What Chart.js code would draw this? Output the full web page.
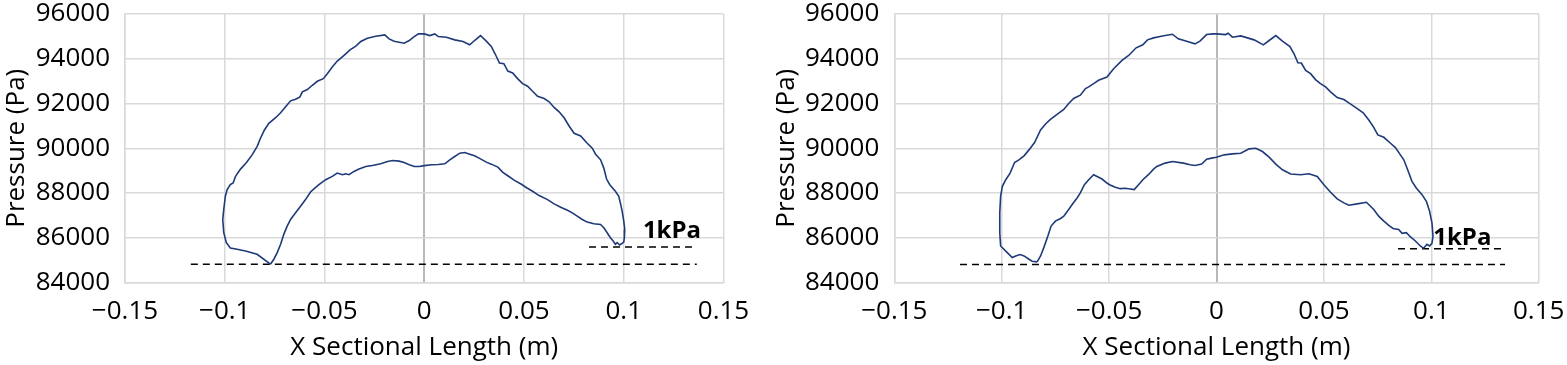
<!DOCTYPE html>
<html>
<head>
<meta charset="utf-8">
<script src="https://cdn.jsdelivr.net/npm/chart.js@4/dist/chart.umd.min.js"></script>
<style>
  body { margin: 0; background: #fff; }
  #esquerdo { position: absolute; left: 0; top: 0; }
  #direito { position: absolute; left: 770px; top: 0; }
</style>
</head>
<body>
<canvas id="esquerdo" width="770" height="365"></canvas>
<canvas id="direito" width="797" height="365"></canvas>
<script>
const esquerdo = document.getElementById('esquerdo');
const direito = document.getElementById('direito');

// curva do grafico da esquerda (volta fechada)
var esqX = [-0.0771, -0.0838, -0.0896, -0.0938, -0.0972, -0.0992, -0.1005, -0.1010, -0.1005, -0.0997,
  -0.0988, -0.0972, -0.0958, -0.0946, -0.0921, -0.0891, -0.0863, -0.0838, -0.0821, -0.0801,
  -0.0779, -0.0745, -0.0720, -0.0695, -0.0670, -0.0645, -0.0623, -0.0611, -0.0586, -0.0561,
  -0.0536, -0.0506, -0.0486, -0.0461, -0.0436, -0.0402, -0.0372, -0.0343, -0.0318, -0.0285,
  -0.0243, -0.0198, -0.0176, -0.0151, -0.0101, -0.0075, -0.0054, -0.0029, 0.0000, 0.0028,
  0.0053, 0.0070, 0.0111, 0.0153, 0.0194, 0.0228, 0.0252, 0.0282, 0.0311, 0.0336,
  0.0355, 0.0377, 0.0399, 0.0419, 0.0443, 0.0468, 0.0493, 0.0518, 0.0543, 0.0568,
  0.0601, 0.0626, 0.0651, 0.0676, 0.0701, 0.0726, 0.0751, 0.0784, 0.0817, 0.0842,
  0.0859, 0.0884, 0.0900, 0.0914, 0.0930, 0.0958, 0.0975, 0.0983, 0.0992, 0.1000,
  0.1005, 0.1003, 0.1000, 0.0992, 0.0980, 0.0967, 0.0958, 0.0947, 0.0933, 0.0917,
  0.0900, 0.0884, 0.0850, 0.0817, 0.0792, 0.0767, 0.0742, 0.0718, 0.0684, 0.0651,
  0.0618, 0.0576, 0.0543, 0.0515, 0.0485, 0.0452, 0.0419, 0.0394, 0.0369, 0.0336,
  0.0311, 0.0282, 0.0252, 0.0228, 0.0203, 0.0178, 0.0153, 0.0128, 0.0103, 0.0070,
  0.0037, 0.0000, -0.0025, -0.0050, -0.0075, -0.0101, -0.0126, -0.0159, -0.0184, -0.0218,
  -0.0260, -0.0293, -0.0327, -0.0352, -0.0377, -0.0394, -0.0410, -0.0436, -0.0461, -0.0494,
  -0.0528, -0.0553, -0.0570, -0.0595, -0.0620, -0.0645, -0.0670, -0.0687, -0.0704, -0.0720,
  -0.0737, -0.0754, -0.0771];
var esqY = [84818, 85262, 85410, 85484, 85543, 85780, 86225, 86817, 87261, 87854,
  88150, 88372, 88446, 88742, 89068, 89364, 89705, 90075, 90446, 90816,
  91112, 91364, 91586, 91853, 92119, 92193, 92297, 92519, 92623, 92815,
  92993, 93111, 93334, 93630, 93896, 94148, 94400, 94563, 94770, 94918,
  95007, 95066, 94889, 94785, 94696, 94815, 94963, 95111, 95111, 95037,
  95111, 94992, 94963, 94844, 94770, 94622, 94815, 95037, 94785, 94548,
  94222, 93807, 93778, 93452, 93363, 93111, 92889, 92771, 92549, 92326,
  92223, 92075, 91823, 91630, 91364, 90994, 90668, 90549, 90223, 90001,
  89735, 89483, 89113, 88624, 88372, 88076, 87854, 87558, 87187, 86743,
  86373, 86003, 85810, 85751, 85677, 85780, 85707, 85855, 86003, 86225,
  86447, 86595, 86625, 86699, 86817, 86965, 87113, 87232, 87365, 87513,
  87706, 87884, 88076, 88224, 88402, 88565, 88772, 88920, 89157, 89290,
  89379, 89527, 89661, 89735, 89809, 89779, 89631, 89483, 89305, 89276,
  89261, 89225, 89187, 89187, 89261, 89364, 89424, 89453, 89409, 89305,
  89231, 89187, 89068, 88965, 88817, 88861, 88817, 88891, 88742, 88594,
  88372, 88180, 88046, 87706, 87410, 87113, 86817, 86521, 86151, 85706,
  85336, 85040, 84818];

// curva do grafico da direita
var dirX = [-0.0835, -0.0858, -0.0873, -0.0896, -0.0915, -0.0935, -0.0951, -0.0974, -0.1005, -0.1009,
  -0.1009, -0.1005, -0.0997, -0.0981, -0.0961, -0.0940, -0.0920, -0.0896, -0.0873, -0.0847,
  -0.0819, -0.0796, -0.0773, -0.0742, -0.0711, -0.0688, -0.0665, -0.0634, -0.0610, -0.0595,
  -0.0572, -0.0549, -0.0510, -0.0479, -0.0440, -0.0409, -0.0374, -0.0343, -0.0321, -0.0293,
  -0.0263, -0.0239, -0.0205, -0.0178, -0.0139, -0.0100, -0.0077, -0.0046, -0.0015, 0.0000,
  0.0043, 0.0054, 0.0074, 0.0113, 0.0144, 0.0175, 0.0218, 0.0245, 0.0276, 0.0307,
  0.0342, 0.0361, 0.0379, 0.0395, 0.0415, 0.0438, 0.0461, 0.0484, 0.0508, 0.0531,
  0.0562, 0.0593, 0.0616, 0.0647, 0.0683, 0.0709, 0.0732, 0.0751, 0.0779, 0.0810,
  0.0833, 0.0856, 0.0872, 0.0890, 0.0910, 0.0930, 0.0957, 0.0977, 0.0992, 0.1003,
  0.1008, 0.1003, 0.0992, 0.0980, 0.0964, 0.0949, 0.0926, 0.0902, 0.0884, 0.0864,
  0.0848, 0.0822, 0.0802, 0.0779, 0.0755, 0.0732, 0.0698, 0.0655, 0.0616, 0.0593,
  0.0562, 0.0531, 0.0500, 0.0469, 0.0430, 0.0392, 0.0345, 0.0307, 0.0276, 0.0245,
  0.0214, 0.0183, 0.0152, 0.0113, 0.0074, 0.0036, 0.0000, -0.0023, -0.0046, -0.0069,
  -0.0100, -0.0123, -0.0154, -0.0205, -0.0239, -0.0278, -0.0293, -0.0317, -0.0343, -0.0363,
  -0.0383, -0.0402, -0.0425, -0.0448, -0.0471, -0.0498, -0.0510, -0.0533, -0.0572, -0.0595,
  -0.0615, -0.0634, -0.0649, -0.0672, -0.0688, -0.0711, -0.0726, -0.0750, -0.0770, -0.0785,
  -0.0804, -0.0819, -0.0835];
var dirY = [84922, 84951, 85040, 85188, 85247, 85188, 85114, 85336, 85632, 86225,
  87113, 87854, 88298, 88594, 88891, 89365, 89483, 89661, 89927, 90253,
  90816, 91082, 91290, 91512, 91734, 92001, 92223, 92371, 92667, 92741,
  92889, 93037, 93185, 93556, 93926, 94148, 94489, 94622, 94844, 94933,
  94992, 95037, 95096, 94889, 94785, 94666, 94785, 95081, 95111, 95111,
  95081, 95140, 94963, 95022, 94933, 94844, 94622, 94815, 95037, 94785,
  94548, 94222, 93822, 93807, 93482, 93334, 93067, 92889, 92741, 92519,
  92267, 92178, 92030, 91823, 91586, 91260, 90934, 90594, 90490, 90223,
  90031, 89705, 89483, 89039, 88520, 88224, 87928, 87632, 87187, 86669,
  86077, 85751, 85632, 85706, 85529, 85632, 85855, 86047, 86225, 86195,
  86373, 86417, 86551, 86743, 86965, 87261, 87587, 87513, 87454, 87558,
  87735, 88032, 88372, 88742, 88861, 88817, 88846, 89039, 89290, 89601,
  89853, 90001, 89972, 89779, 89749, 89705, 89600, 89560, 89513, 89290,
  89231, 89261, 89335, 89409, 89335, 89187, 89068, 88817, 88594, 88372,
  88150, 88180, 88209, 88194, 88254, 88372, 88446, 88624, 88817, 88594,
  88372, 88002, 87780, 87484, 87261, 86965, 86862, 86743, 86521, 86077,
  85558, 85188, 84922];

// linhas tracejadas (referencia de 1kPa)
var esqBaixaX = [-0.117, 0.1366];
var esqBaixaY = [84815, 84815];
var esqAltaX = [0.0826, 0.1357];
var esqAltaY = [85585, 85585];
var dirBaixaX = [-0.1194, 0.1343];
var dirBaixaY = [84805, 84805];
var dirAltaX = [0.0845, 0.1343];
var dirAltaY = [85510, 85510];

var rotulo = '1kPa';
var tituloX = 'X Sectional Length (m)';
var tituloY = 'Pressure (Pa)';

var azul = '#1f3a78';
var grade = '#d9d9d9';
var fonte = { family: "'Open Sans'", size: 26 };

function pontos(xs, ys) {
  return xs.map(function (x, i) { return { x: x, y: ys[i] }; });
}

// escreve o "1kPa" no grafico
var rotuloPlugin = {
  id: 'rotulo',
  afterDatasetsDraw: function (chart) {
    var r = chart.options.plugins.rotulo;
    var ctx = chart.ctx;
    ctx.save();
    ctx.font = "bold 24px 'Open Sans'";
    ctx.fillStyle = '#000';
    ctx.textBaseline = 'alphabetic';
    ctx.fillText(r.texto, chart.scales.x.getPixelForValue(r.x), chart.scales.y.getPixelForValue(r.y));
    ctx.restore();
  }
};

function fazerGrafico(canvas, xs, ys, baixaX, baixaY, altaX, altaY, posRotulo, larguraY, margemDireita) {
  return new Chart(canvas, {
    type: 'scatter',
    data: {
      datasets: [
        { data: pontos(xs, ys), showLine: true, borderColor: azul, borderWidth: 1.6, pointRadius: 0, fill: false },
        { data: pontos(baixaX, baixaY), showLine: true, borderColor: '#000', borderWidth: 1.4, borderDash: [7, 5], pointRadius: 0 },
        { data: pontos(altaX, altaY), showLine: true, borderColor: '#000', borderWidth: 1.4, borderDash: [7, 5], pointRadius: 0 }
      ]
    },
    options: {
      responsive: false,
      animation: false,
      devicePixelRatio: 1,
      layout: { padding: { left: 0, top: 14, right: margemDireita, bottom: 0 } },
      plugins: {
        legend: { display: false },
        tooltip: { enabled: false },
        rotulo: posRotulo
      },
      scales: {
        x: {
          type: 'linear',
          min: -0.15,
          max: 0.15,
          ticks: {
            stepSize: 0.05,
            color: '#000',
            font: fonte,
            padding: 13,
            maxRotation: 0,
            callback: function (v) {
              var r = Math.round(v * 100) / 100;
              return r < 0 ? '\u2212' + String(-r) : String(r); // menos comprido igual no excel
            }
          },
          grid: {
            color: function (c) { return c.tick && c.tick.value === 0 ? '#b8b8b8' : grade; },
            lineWidth: function (c) { return c.tick && c.tick.value === 0 ? 2 : 1.5; },
            drawTicks: false
          },
          border: { color: grade, width: 1.5 },
          title: { display: true, text: tituloX, color: '#000', font: fonte, padding: { top: 0, bottom: 2 } },
          afterFit: function (s) {
            s.height = 82.5;
            s.paddingLeft = 0; // senao o chart.js empurra a area do grafico
            s.paddingRight = 0;
          }
        },
        y: {
          type: 'linear',
          min: 84000,
          max: 96000,
          ticks: {
            stepSize: 2000,
            color: '#000',
            font: fonte,
            padding: 15,
            callback: function (v) { return String(v); }
          },
          grid: { color: grade, lineWidth: 1.5, drawTicks: false },
          border: { color: grade, width: 1.5 },
          title: { display: true, text: tituloY, color: '#000', font: fonte, padding: { top: 1, bottom: 0 } },
          afterFit: function (s) {
            s.width = larguraY;
            s.paddingTop = 0;
            s.paddingBottom = 0;
          }
        }
      }
    },
    plugins: [rotuloPlugin]
  });
}

const graficoEsq = fazerGrafico(esquerdo, esqX, esqY, esqBaixaX, esqBaixaY, esqAltaX, esqAltaY,
  { texto: rotulo, x: 0.1096, y: 85974 }, 125, 46.5);
const graficoDir = fazerGrafico(direito, dirX, dirY, dirBaixaX, dirBaixaY, dirAltaX, dirAltaY,
  { texto: rotulo, x: 0.1009, y: 85695 }, 124.3, 28.3);
</script>
</body>
</html>
